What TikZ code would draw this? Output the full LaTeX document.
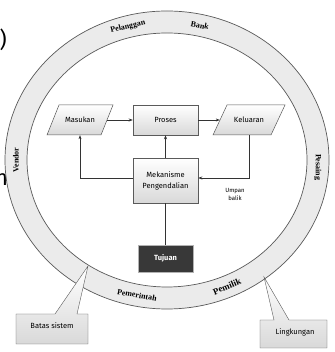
\documentclass[tikz,border=0pt]{standalone}
\usepackage{fontspec}
\setmainfont{Fira Sans}
\newfontfamily\ringfont{Liberation Serif}
\usetikzlibrary{arrows.meta}
\definecolor{ringfill}{HTML}{EBEBEB}
\definecolor{edge}{HTML}{5A5A5A}
\definecolor{darkbox}{HTML}{383838}
\begin{document}
\begin{tikzpicture}[x=1pt,y=1pt,
  shadebox/.style={draw=edge, line width=0.5pt, top color=white, bottom color=gray!30},
  label/.style={font=\fontsize{7.5}{9}\selectfont, inner sep=0pt},
  ringlabel/.style={font=\ringfont\bfseries\fontsize{8}{9}\selectfont, inner sep=0pt},
  conn/.style={draw=black!80, line width=0.5pt},
  arr/.style={conn, -{Stealth[length=4pt,width=3pt]}}
]
\useasboundingbox (0,0) rectangle (334,352);
\fill[white] (0,0) rectangle (334,352);

% page fragments at the left edge
\node[anchor=east, inner sep=0pt, font=\fontsize{22}{22}\selectfont] (frag1) at (7,312) {)};
\node[anchor=west, inner sep=0pt, font=\fontsize{22}{22}\selectfont] (frag2) at (-5,172) {n};

% ring (environment)
\fill[ringfill, even odd rule] (167,192) ellipse [x radius=162, y radius=149]
                               (167,192) ellipse [x radius=140, y radius=127];
\draw[edge, line width=0.7pt] (167,192) ellipse [x radius=162, y radius=149];
\draw[edge, line width=0.7pt] (167,192) ellipse [x radius=140, y radius=127];

% ring labels
\node[ringlabel, rotate=13.7] (pel) at (127.9,325.3) {Pelanggan};
\node[ringlabel, rotate=-11.6] (bank) at (199.9,326.7) {Bank};
\node[ringlabel, rotate=90] (vendor) at (16,192) {Vendor};
\node[ringlabel, rotate=-90] (pesaing) at (317.8,184.8) {Pesaing};
\node[ringlabel, rotate=-10.5] (pemer) at (137,56.8) {Pemerintah};
\node[ringlabel, rotate=22.7, font=\ringfont\bfseries\fontsize{9}{10}\selectfont] (pemilik) at (227,65.5) {Pemilik};

% input / process / output
\path[shadebox] (47,217) -- (101,217) -- (113,247) -- (59,247) -- cycle;
\node[label, minimum width=54pt, minimum height=30pt] (masukan) at (80,232) {Masukan};
\node[shadebox, label, minimum width=65pt, minimum height=30pt] (proses) at (165.5,232) {Proses};
\path[shadebox] (213,217) -- (271,217) -- (285,247) -- (227,247) -- cycle;
\node[label, minimum width=58pt, minimum height=30pt] (keluaran) at (249,232) {Keluaran};

% control
\node[shadebox, label, minimum width=65pt, minimum height=45pt, align=center] (mek) at (165.5,171.5) {Mekanisme\\[2pt]Pengendalian};
\node[draw=gray!60, line width=0.9pt, fill=darkbox, text=white, font=\bfseries\fontsize{7.5}{9}\selectfont, inner sep=0pt, minimum width=55pt, minimum height=27pt] (tujuan) at (165.5,93.5) {Tujuan};

\node[font=\fontsize{6}{8}\selectfont, align=center, inner sep=0pt] (umpan) at (235,158) {Umpan\\balik};

% connectors
\draw[arr] (masukan.east) -- (proses.west);
\draw[arr] (proses.east) -- (keluaran.west);
\draw[arr] (mek.north) -- (proses.south);
\draw[arr] ([yshift=2.5pt]mek.west) -| (masukan.south);
\draw[arr] (keluaran.south) |- ([yshift=2.5pt]mek.east);
\draw[conn] (mek.south) -- (tujuan.north);

% callouts
\coordinate (tipA) at (88,86);
\path[shadebox, line width=0.4pt] (16,38) -- (55,38) -- (tipA) -- (77,38) -- (88,38) -- (88,8) -- (16,8) -- cycle;
\node[label] (batas) at (52,26) {Batas sistem};
\coordinate (tipB) at (264,75);
\path[shadebox, line width=0.4pt] (260,32) -- (274,32) -- (tipB) -- (289,32) -- (327,32) -- (327,4) -- (260,4) -- cycle;
\node[label] (lingk) at (295,20) {Lingkungan};
\end{tikzpicture}
\end{document}
